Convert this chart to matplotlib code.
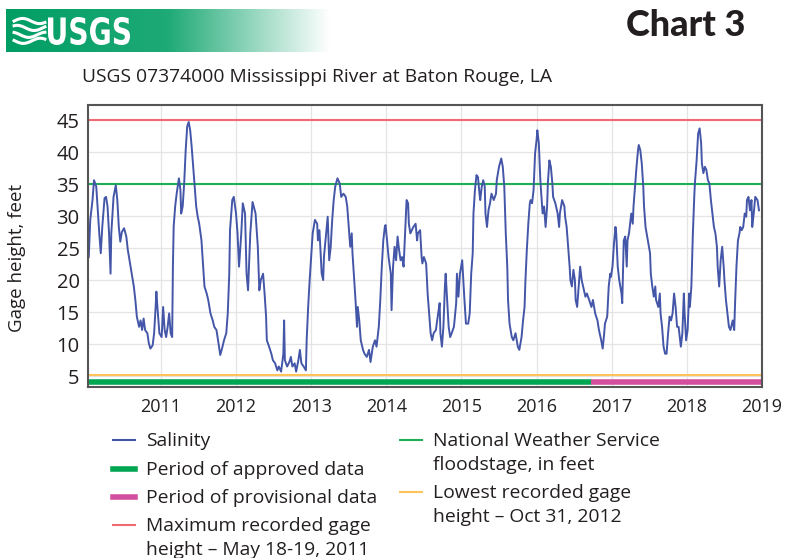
import numpy as np
import matplotlib
matplotlib.use('Agg')
import matplotlib.pyplot as plt
from matplotlib.lines import Line2D
from matplotlib.textpath import TextPath
from matplotlib.patches import PathPatch
from matplotlib.font_manager import FontProperties
from matplotlib.transforms import Affine2D

# Datos (anio decimal, altura en pies)
years_a = [2010.04, 2010.06, 2010.09, 2010.11, 2010.14, 2010.16, 2010.18, 2010.20, 2010.22, 2010.25,
           2010.27, 2010.29, 2010.31, 2010.33, 2010.34, 2010.37, 2010.40, 2010.42, 2010.44, 2010.46,
           2010.48, 2010.51, 2010.54, 2010.56, 2010.59, 2010.62, 2010.64, 2010.66, 2010.68, 2010.71,
           2010.73, 2010.75, 2010.77, 2010.79, 2010.82, 2010.84, 2010.86, 2010.89, 2010.91, 2010.93,
           2010.94, 2010.96, 2010.98, 2011.01, 2011.03, 2011.05, 2011.07, 2011.09, 2011.11, 2011.13,
           2011.15, 2011.16, 2011.17, 2011.19, 2011.21, 2011.24, 2011.26, 2011.27, 2011.29, 2011.31,
           2011.33, 2011.35, 2011.37, 2011.39, 2011.41, 2011.43, 2011.45, 2011.47, 2011.49, 2011.51,
           2011.54, 2011.56, 2011.58, 2011.61, 2011.63, 2011.66, 2011.69, 2011.71, 2011.74, 2011.76,
           2011.79, 2011.82, 2011.84, 2011.87, 2011.89, 2011.91, 2011.92, 2011.95, 2011.97, 2012.00,
           2012.02, 2012.04, 2012.07, 2012.09, 2012.12, 2012.14, 2012.16, 2012.19, 2012.22]
gage_a = [23.6, 29.4, 32.5, 35.6, 34.6, 30.9, 27.3, 24.2, 28.3, 32.8,
          33.0, 31.5, 27.3, 21.0, 27.3, 33.0, 34.8, 32.5, 28.3, 26.0,
          27.5, 28.1, 26.8, 24.7, 22.6, 20.5, 19.0, 16.9, 14.3, 12.7,
          13.7, 12.2, 14.0, 12.2, 11.7, 10.1, 9.3, 9.8, 11.7, 15.8,
          18.2, 14.8, 11.7, 11.1, 15.8, 12.2, 11.1, 12.7, 14.8, 11.7,
          11.1, 22.1, 28.3, 31.5, 33.5, 35.9, 34.1, 30.4, 31.5, 35.1,
          40.3, 44.0, 44.7, 43.4, 40.8, 37.7, 34.6, 31.5, 29.9, 28.8,
          26.2, 22.6, 19.0, 17.9, 16.9, 14.8, 13.7, 12.7, 12.2, 10.6,
          8.3, 9.6, 10.6, 11.7, 14.8, 21.0, 27.8, 32.5, 33.0, 30.4,
          27.3, 22.1, 27.3, 32.0, 30.4, 21.0, 18.4, 27.3, 32.2]

years_b = [2012.26, 2012.29, 2012.31, 2012.33, 2012.36, 2012.38, 2012.40, 2012.41, 2012.44, 2012.47,
           2012.49, 2012.52, 2012.55, 2012.57, 2012.60, 2012.63, 2012.64, 2012.65, 2012.68, 2012.71,
           2012.73, 2012.75, 2012.78, 2012.80, 2012.83, 2012.85, 2012.87, 2012.90, 2012.93, 2012.94,
           2012.96, 2012.98, 2013.00, 2013.02, 2013.05, 2013.08, 2013.09, 2013.11, 2013.14, 2013.16,
           2013.17, 2013.20, 2013.22, 2013.24, 2013.26, 2013.28, 2013.30, 2013.32, 2013.35, 2013.38,
           2013.40, 2013.43, 2013.46, 2013.48, 2013.50, 2013.52, 2013.54, 2013.55, 2013.57, 2013.59,
           2013.61, 2013.62, 2013.64, 2013.66, 2013.69, 2013.71, 2013.74, 2013.77, 2013.79, 2013.82,
           2013.85, 2013.87, 2013.90, 2013.92, 2013.94, 2013.96, 2013.98, 2013.99, 2014.01, 2014.03,
           2014.06, 2014.07, 2014.09, 2014.11, 2014.13, 2014.15, 2014.17, 2014.19, 2014.21, 2014.23,
           2014.25, 2014.27, 2014.29, 2014.30, 2014.32]
gage_b = [30.4, 25.2, 18.4, 20.0, 21.0, 17.9, 14.3, 10.6, 9.6, 8.5,
          7.5, 7.0, 5.9, 6.5, 5.7, 8.5, 13.7, 7.5, 6.5, 7.2,
          8.0, 6.5, 7.0, 5.7, 7.5, 9.1, 7.0, 6.5, 5.9, 10.6,
          15.8, 20.0, 23.6, 27.3, 29.4, 28.8, 26.2, 27.8, 21.0, 20.0,
          23.6, 27.3, 29.9, 23.1, 25.2, 29.4, 32.5, 34.6, 35.9, 35.1,
          33.0, 33.5, 33.0, 31.5, 28.3, 25.2, 27.3, 24.2, 20.5, 16.9,
          12.7, 15.8, 13.7, 10.6, 9.1, 8.5, 8.0, 9.1, 7.2, 9.6,
          10.6, 9.6, 12.7, 16.9, 22.1, 26.2, 28.3, 28.6, 26.2, 23.6,
          21.0, 15.3, 22.1, 25.2, 23.1, 26.8, 24.7, 23.1, 23.6, 22.1,
          27.3, 32.5, 32.0, 28.8, 27.3]

years_c = [2014.36, 2014.39, 2014.41, 2014.42, 2014.45, 2014.47, 2014.48, 2014.50, 2014.53, 2014.55,
           2014.57, 2014.59, 2014.61, 2014.63, 2014.66, 2014.69, 2014.71, 2014.72, 2014.74, 2014.76,
           2014.78, 2014.79, 2014.81, 2014.83, 2014.85, 2014.87, 2014.90, 2014.93, 2014.94, 2014.96,
           2014.98, 2015.01, 2015.02, 2015.04, 2015.06, 2015.09, 2015.11, 2015.13, 2015.15, 2015.16,
           2015.18, 2015.20, 2015.22, 2015.24, 2015.25, 2015.27, 2015.29, 2015.31, 2015.32, 2015.34,
           2015.36, 2015.38, 2015.40, 2015.43, 2015.46, 2015.47, 2015.50, 2015.53, 2015.55, 2015.57,
           2015.59, 2015.61, 2015.62, 2015.64, 2015.67, 2015.69, 2015.72, 2015.75, 2015.77, 2015.80,
           2015.82, 2015.84, 2015.85, 2015.87, 2015.89, 2015.91, 2015.92, 2015.94, 2015.96, 2015.98,
           2016.00, 2016.01, 2016.03, 2016.05, 2016.07, 2016.08, 2016.10, 2016.12, 2016.14, 2016.15,
           2016.17, 2016.19, 2016.21, 2016.22, 2016.25, 2016.28, 2016.30, 2016.31, 2016.34, 2016.37,
           2016.38, 2016.40, 2016.42, 2016.44, 2016.45, 2016.47, 2016.49, 2016.51, 2016.52, 2016.54,
           2016.56, 2016.58, 2016.60]
gage_c = [28.3, 28.8, 26.2, 27.3, 27.8, 23.6, 22.6, 23.6, 22.6, 17.9,
          14.8, 11.7, 10.6, 11.7, 12.2, 14.8, 16.4, 11.7, 9.6, 12.7,
          19.0, 21.0, 16.9, 12.7, 11.1, 11.7, 12.7, 16.4, 21.0, 17.4,
          21.0, 23.1, 21.0, 16.9, 13.2, 13.2, 14.8, 21.0, 24.2, 30.4,
          34.1, 36.4, 36.1, 33.5, 32.5, 34.6, 35.6, 34.6, 30.4, 28.3,
          30.9, 32.0, 33.5, 32.5, 33.5, 35.6, 37.7, 39.0, 37.7, 34.6,
          27.3, 22.1, 16.9, 13.2, 11.1, 10.6, 11.7, 9.6, 9.1, 11.1,
          13.7, 15.8, 19.5, 24.7, 28.8, 32.0, 32.5, 32.0, 34.1, 39.8,
          41.9, 43.4, 41.4, 35.6, 32.0, 30.4, 31.5, 28.3, 31.5, 35.1,
          38.7, 37.7, 35.1, 33.0, 32.0, 30.4, 28.3, 30.4, 32.5, 31.5,
          29.9, 28.3, 25.2, 22.1, 20.0, 19.0, 21.6, 20.0, 16.9, 15.8,
          19.0, 22.1, 20.0]

years_d = [2016.63, 2016.65, 2016.67, 2016.70, 2016.73, 2016.75, 2016.78, 2016.81, 2016.83, 2016.86,
           2016.88, 2016.90, 2016.91, 2016.94, 2016.96, 2016.98, 2016.99, 2017.01, 2017.03, 2017.05,
           2017.06, 2017.08, 2017.10, 2017.13, 2017.14, 2017.16, 2017.18, 2017.20, 2017.21, 2017.23,
           2017.26, 2017.28, 2017.29, 2017.31, 2017.33, 2017.35, 2017.36, 2017.38, 2017.40, 2017.42,
           2017.43, 2017.45, 2017.48, 2017.51, 2017.52, 2017.54, 2017.56, 2017.58, 2017.59, 2017.62,
           2017.64, 2017.65, 2017.67, 2017.69, 2017.71, 2017.73, 2017.75, 2017.77, 2017.79, 2017.81,
           2017.83, 2017.85, 2017.87, 2017.89, 2017.92, 2017.94, 2017.96, 2017.97, 2017.99, 2018.01,
           2018.03, 2018.04, 2018.06, 2018.08, 2018.10, 2018.11, 2018.13, 2018.15, 2018.17, 2018.19,
           2018.20, 2018.22, 2018.24, 2018.26, 2018.28, 2018.30, 2018.32, 2018.34, 2018.36, 2018.38,
           2018.40, 2018.41, 2018.43, 2018.45, 2018.47, 2018.49, 2018.50, 2018.52, 2018.54, 2018.56,
           2018.58, 2018.61, 2018.63, 2018.64, 2018.66, 2018.68, 2018.70, 2018.71, 2018.73, 2018.75,
           2018.77, 2018.79, 2018.80, 2018.82, 2018.84, 2018.86, 2018.87, 2018.89, 2018.91, 2018.94,
           2018.96]
gage_d = [18.4, 17.4, 17.9, 16.9, 15.8, 16.9, 14.8, 13.7, 12.2, 10.6,
          9.3, 11.7, 13.2, 14.3, 19.0, 21.0, 20.5, 22.1, 25.7, 28.3,
          27.3, 22.1, 20.0, 17.9, 16.4, 26.2, 26.8, 22.1, 26.2, 27.3,
          30.4, 28.8, 31.5, 34.6, 37.7, 40.3, 41.1, 40.3, 38.2, 34.6,
          31.5, 28.3, 26.2, 24.2, 21.0, 19.0, 17.4, 19.0, 16.9, 15.8,
          17.9, 14.8, 12.7, 9.6, 8.5, 8.5, 11.7, 14.3, 13.7, 14.8,
          17.9, 15.8, 12.7, 12.7, 9.6, 11.7, 17.9, 14.8, 10.6, 12.2,
          17.9, 15.8, 19.0, 27.3, 33.5, 35.6, 38.7, 42.9, 43.7, 41.4,
          38.2, 36.7, 37.7, 37.2, 35.6, 35.1, 32.5, 30.4, 28.3, 27.3,
          25.2, 22.1, 19.0, 23.1, 25.2, 22.1, 20.0, 16.9, 14.8, 12.7,
          12.2, 13.7, 12.2, 15.8, 22.1, 26.2, 27.3, 28.3, 27.8, 28.3,
          30.4, 29.9, 32.5, 33.0, 30.9, 32.5, 28.3, 30.4, 33.0, 32.5,
          30.9]

years = years_a + years_b + years_c + years_d
gage = gage_a + gage_b + gage_c + gage_d

max_gage = 45.0        # May 18-19, 2011
flood_stage = 35.0     # National Weather Service
low_gage = 5.2         # Oct 31, 2012
approved_end = 2016.73
x_start, x_end = 2010.03, 2019.0
year_ticks = list(range(2011, 2020))
gage_ticks = list(range(5, 50, 5))

fnt = 'Open Sans'
plt.rcParams['font.family'] = [fnt, 'DejaVu Sans']
txt = '#231f20'

fig = plt.figure(figsize=(7.91, 5.58), dpi=100)
W, H = 791, 558

# Banner USGS con degradado
bax = fig.add_axes([6 / W, 1 - 52 / H, 324 / W, 43 / H])
xs = np.linspace(0, 1, 400)
fade = np.interp(xs, [0, 0.5, 1.0], [0, 0.12, 1.0])
green = np.array([0, 158, 100]) / 255
rgb = green[None, :] * (1 - fade[:, None]) + fade[:, None]
bax.imshow(np.tile(rgb[None, :, :], (10, 1, 1)), aspect='auto', extent=[0, 1, 0, 1])
t = np.linspace(0.025, 0.12, 50)
for k, yo in enumerate([0.72, 0.56, 0.40, 0.26]):
    bax.plot(t, yo + 0.06 * np.sin((t - 0.025) * 60 + k), color='white', lw=2.2)
bax.set_xlim(0, 1)
bax.set_ylim(0, 1)
bax.axis('off')

# texto USGS condensado (48..130 px, altura 17..45 px)
tp = TextPath((0, 0), 'USGS', size=40, prop=FontProperties(family='DejaVu Sans', weight='bold'))
bb = tp.get_extents()
sx = 82 / bb.width
sy = 28 / bb.height
tr = Affine2D().translate(-bb.x0, -bb.y0).scale(sx, sy).translate(48, H - 45)
fig.add_artist(PathPatch(tr.transform_path(tp), color='white', lw=0, transform=None))

fig.text(745 / W, 1 - 25 / H, 'Chart 3', fontsize=26, fontweight='black',
         family=['Lato', 'DejaVu Sans'], ha='right', va='center', color=txt)
fig.text(82 / W, 1 - 77 / H, 'USGS 07374000 Mississippi River at Baton Rouge, LA',
         fontsize=13.9, ha='left', va='center', color=txt)

ax = fig.add_axes([88 / W, 1 - 387 / H, 674 / W, 282 / H])
ax.set_xlim(x_start, x_end)
ax.set_ylim(3.3, 47.35)
ax.set_xticks(year_ticks)
ax.set_yticks(gage_ticks)
ax.grid(True, color='#e4e4e4', lw=0.9)
ax.set_axisbelow(True)
ax.tick_params(length=0, colors=txt)
ax.tick_params(axis='x', labelsize=13, pad=8)
ax.tick_params(axis='y', labelsize=14.5, pad=6)
for s in ax.spines.values():
    s.set_color('#555555')
    s.set_linewidth(1.5)

ax.axhline(max_gage, color='#f06a72', lw=1.5)
ax.axhline(flood_stage, color='#1fae55', lw=1.5)
ax.axhline(low_gage, color='#ffc35a', lw=1.5)
ax.plot(years, gage, color='#4456a8', lw=1.4)
ax.plot([x_start, approved_end], [4.1, 4.1], color='#00a651', lw=4, solid_capstyle='butt')
ax.plot([approved_end, x_end], [4.1, 4.1], color='#d14f9e', lw=4, solid_capstyle='butt')

fig.text(17 / W, 1 - 258 / H, 'Gage height, feet', rotation=90, fontsize=13.5,
         ha='center', va='center', color=txt)

# Leyenda manual
legend_items = [
    (113, 440, '#4456a8', 1.5, 'Salinity'),
    (113, 469, '#00a651', 4, 'Period of approved data'),
    (113, 497, '#d14f9e', 4, 'Period of provisional data'),
    (113, 525, '#f06a72', 1.5, 'Maximum recorded gage\nheight \u2013 May 18-19, 2011'),
    (400, 440, '#1fae55', 1.5, 'National Weather Service\nfloodstage, in feet'),
    (400, 492, '#ffc35a', 1.5, 'Lowest recorded gage\nheight \u2013 Oct 31, 2012'),
]
for x0, y0, c, lw, lab in legend_items:
    fig.add_artist(Line2D([x0 / W, (x0 + 22) / W], [1 - y0 / H, 1 - y0 / H],
                          color=c, lw=lw, transform=fig.transFigure))
    fig.text((x0 + 33) / W, 1 - (y0 - 8) / H, lab, fontsize=13.9, ha='left', va='top',
             color=txt, linespacing=1.45)

fig.savefig('out.png', dpi=100)
